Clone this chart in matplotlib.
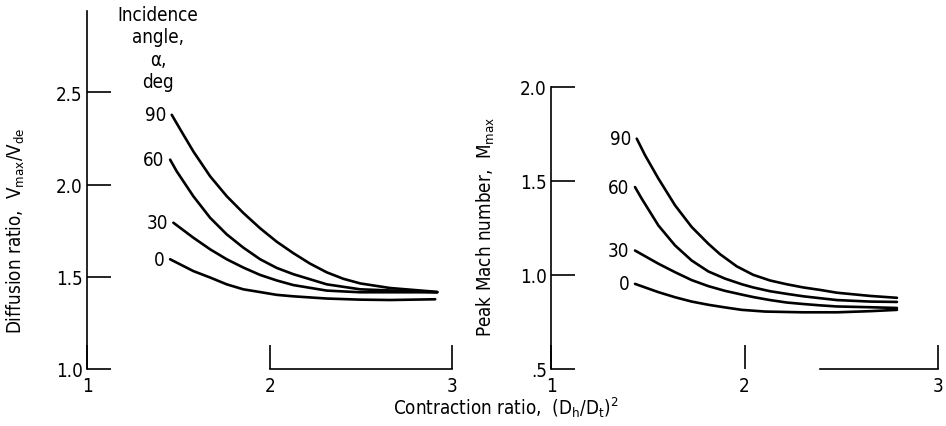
import matplotlib
matplotlib.use('Agg')
import matplotlib.pyplot as plt

plt.rcParams['font.family'] = ['DejaVu Sans']
plt.rcParams['font.stretch'] = 'condensed'
plt.rcParams['mathtext.fontset'] = 'custom'
plt.rcParams['mathtext.rm'] = 'DejaVu Sans:stretch=condensed'
plt.rcParams['mathtext.it'] = 'DejaVu Sans:stretch=condensed'

# incidence angles, deg
angles = ['90', '60', '30', '0']

# diffusion ratio Vmax/Vde vs contraction ratio (left panel)
diff_x = {
    '90': [1.464, 1.510, 1.582, 1.674, 1.765, 1.856, 1.948, 2.039, 2.130,
           2.222, 2.313, 2.404, 2.496, 2.660, 2.918],
    '60': [1.455, 1.491, 1.582, 1.674, 1.765, 1.856, 1.948, 2.039, 2.130,
           2.313, 2.496, 2.918],
    '30': [1.473, 1.582, 1.674, 1.765, 1.856, 1.948, 2.039, 2.130, 2.313,
           2.496, 2.918],
    '0':  [1.455, 1.582, 1.674, 1.765, 1.856, 1.948, 2.039, 2.130, 2.313,
           2.496, 2.660, 2.907],
}
diff_y = {
    '90': [2.378, 2.300, 2.180, 2.045, 1.937, 1.846, 1.763, 1.690, 1.628,
           1.571, 1.524, 1.489, 1.464, 1.439, 1.418],
    '60': [2.135, 2.072, 1.937, 1.820, 1.730, 1.658, 1.595, 1.548, 1.514,
           1.459, 1.432, 1.416],
    '30': [1.793, 1.712, 1.649, 1.595, 1.550, 1.510, 1.480, 1.455, 1.425,
           1.416, 1.416],
    '0':  [1.595, 1.531, 1.496, 1.459, 1.432, 1.417, 1.402, 1.394, 1.382,
           1.376, 1.374, 1.378],
}

# peak Mach number vs contraction ratio (right panel)
mach_x = {
    '90': [1.443, 1.486, 1.555, 1.641, 1.727, 1.813, 1.873, 1.960, 2.045,
           2.132, 2.218, 2.304, 2.390, 2.478, 2.649, 2.788],
    '60': [1.434, 1.469, 1.555, 1.641, 1.727, 1.813, 1.899, 1.986, 2.045,
           2.132, 2.218, 2.304, 2.390, 2.478, 2.649, 2.788],
    '30': [1.434, 1.555, 1.641, 1.727, 1.813, 1.899, 1.986, 2.045, 2.132,
           2.218, 2.304, 2.390, 2.478, 2.649, 2.788],
    '0':  [1.434, 1.555, 1.641, 1.727, 1.813, 1.899, 1.986, 2.106, 2.302,
           2.478, 2.649, 2.788],
}
mach_y = {
    '90': [1.723, 1.635, 1.511, 1.369, 1.254, 1.165, 1.110, 1.045, 1.000,
           0.970, 0.950, 0.933, 0.920, 0.905, 0.888, 0.878],
    '60': [1.466, 1.404, 1.262, 1.156, 1.076, 1.018, 0.980, 0.950, 0.933,
           0.913, 0.899, 0.886, 0.876, 0.866, 0.858, 0.856],
    '30': [1.129, 1.059, 1.014, 0.972, 0.940, 0.915, 0.895, 0.882, 0.866,
           0.853, 0.845, 0.838, 0.832, 0.828, 0.824],
    '0':  [0.952, 0.908, 0.881, 0.858, 0.841, 0.827, 0.814, 0.805, 0.801,
           0.801, 0.807, 0.814],
}

fig = plt.figure(figsize=(9.46, 4.27), dpi=100)
ax1 = fig.add_axes([0.092, 0.1335, 0.386, 0.838])
ax2 = fig.add_axes([0.5825, 0.1335, 0.409, 0.838])

def style(ax, ylim, yticks, ylabels, ybounds, xbounds):
    ax.set_xlim(1, 3)
    ax.set_ylim(*ylim)
    for s in ['top', 'right']:
        ax.spines[s].set_visible(False)
    ax.spines['left'].set_bounds(*ybounds)
    ax.spines['bottom'].set_bounds(*xbounds)
    ax.spines['left'].set_linewidth(1.2)
    ax.spines['bottom'].set_linewidth(1.2)
    ax.set_yticks(yticks)
    ax.set_yticklabels(ylabels)
    ax.set_xticks([1, 2, 3])
    ax.set_xticklabels(['1', '2', '3'])
    ax.tick_params(axis='both', direction='in', length=17, width=1.2,
                   labelsize=13.5, pad=3)
    ax.tick_params(axis='x', pad=5)

style(ax1, (1.0, 2.94), [1.0, 1.5, 2.0, 2.5], ['1.0', '1.5', '2.0', '2.5'],
      (1.0, 2.94), (2, 3))
style(ax2, (0.5, 2.40), [0.5, 1.0, 1.5, 2.0], ['.5', '1.0', '1.5', '2.0'],
      (0.5, 2.0), (2.39, 3))

for a in angles:
    ax1.plot(diff_x[a], diff_y[a], color='black', lw=1.9,
             solid_capstyle='round', solid_joinstyle='round')
    ax1.annotate(a, (diff_x[a][0], diff_y[a][0]), xytext=(-4, 0),
                 textcoords='offset points', ha='right', va='center',
                 fontsize=13.5)
    ax2.plot(mach_x[a], mach_y[a], color='black', lw=1.9,
             solid_capstyle='round', solid_joinstyle='round')
    ax2.annotate(a, (mach_x[a][0], mach_y[a][0]), xytext=(-4, 0),
                 textcoords='offset points', ha='right', va='center',
                 fontsize=13.5)

ax1.set_ylabel('Diffusion ratio,  V$_{max}$/V$_{de}$', fontsize=13.5)
ax1.yaxis.set_label_coords(-0.165, 0.39)
ax2.set_ylabel('Peak Mach number,  M$_{max}$', fontsize=13.5)
ax2.yaxis.set_label_coords(-0.14, 0.40)

fig.text(158 / 946, 1 - 6 / 427, 'Incidence\nangle,\n\u03b1,\ndeg',
         ha='center', va='top', fontsize=13.5, linespacing=1.22)
fig.text(506 / 946, 1 - 408 / 427, 'Contraction ratio,  (D$_h$/D$_t$)$^2$',
         ha='center', va='center', fontsize=13.5)

plt.savefig('out.png', dpi=100, facecolor='white')
